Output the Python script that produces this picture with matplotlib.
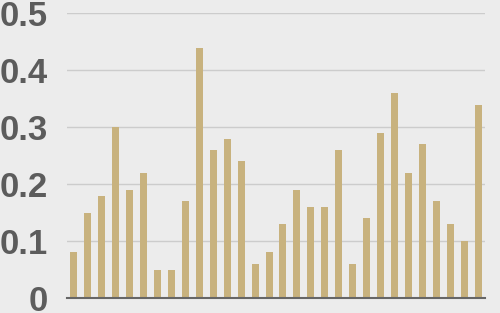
import matplotlib
matplotlib.use('Agg')
import matplotlib.pyplot as plt

# bar heights, left to right
values = [0.08, 0.15, 0.18, 0.30, 0.19, 0.22, 0.05, 0.05, 0.17, 0.44,
          0.26, 0.28, 0.24, 0.06, 0.08, 0.13, 0.19, 0.16, 0.16, 0.26,
          0.06, 0.14, 0.29, 0.36, 0.22, 0.27, 0.17, 0.13, 0.10, 0.34]
yticks = [0, 0.1, 0.2, 0.3, 0.4, 0.5]
ylabels = ['0', '0.1', '0.2', '0.3', '0.4', '0.5']

bg = '#ececec'
fig = plt.figure(figsize=(5, 3.13), dpi=100, facecolor=bg)
ax = fig.add_axes([0.134, 0.048, 0.836, 0.909])
ax.set_facecolor(bg)

ax.bar(range(len(values)), values, width=0.5, color='#c8b27e', zorder=3)

ax.set_xlim(-0.5, len(values) - 0.5)
ax.set_ylim(0, 0.5)
ax.set_yticks(yticks)
ax.set_yticklabels(ylabels, fontfamily='Liberation Sans', fontweight='bold',
                   fontsize=25, color='#5c5c5c')
ax.set_xticks([])
ax.tick_params(axis='y', length=0, pad=14)
ax.grid(axis='y', color='#cccccc', linewidth=1, zorder=0)

for s in ['top', 'right', 'left']:
    ax.spines[s].set_visible(False)
ax.spines['bottom'].set_color('#666666')
ax.spines['bottom'].set_linewidth(1.5)
ax.spines['bottom'].set_zorder(4)

fig.savefig('out.png', dpi=100, facecolor=bg)
